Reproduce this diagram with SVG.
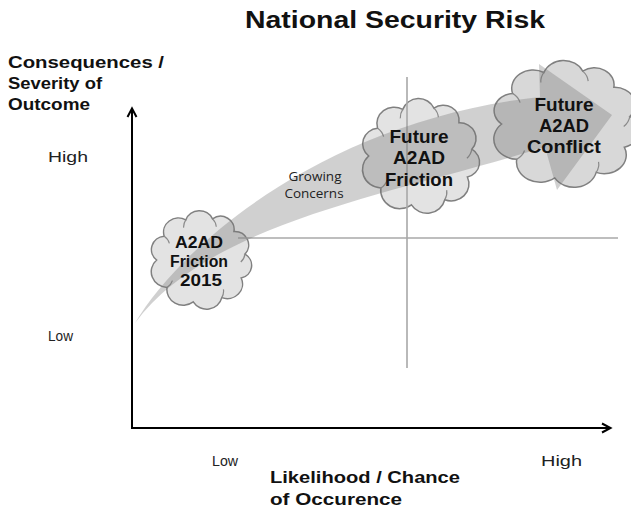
<svg xmlns="http://www.w3.org/2000/svg" width="631" height="518" viewBox="0 0 631 518">
  <defs>
    <style>
      .title { font-family: "Liberation Sans", Arial, sans-serif; font-weight: bold; font-size: 23px; fill: #111; }
      .axis-title { font-family: "Liberation Sans", Arial, sans-serif; font-weight: bold; font-size: 16px; fill: #111; }
      .tick { font-family: "Liberation Sans", Arial, sans-serif; font-size: 15px; fill: #222; }
      .cloud-text { font-family: "Liberation Sans", Arial, sans-serif; font-weight: bold; fill: #111; text-anchor: middle; }
      .note { font-family: "Open Sans", "Liberation Sans", sans-serif; font-size: 13.5px; fill: #222; text-anchor: middle; }
      .cloud { stroke: #808080; stroke-width: 1.5; }
      .cloud-inner { fill: none; stroke: #8a8a8a; stroke-width: 1.2; }
      .grid { stroke: #a8a8a8; stroke-width: 1.6; fill: none; }
      .axis { stroke: #000; stroke-width: 2; fill: none; }
      .band { fill: #6f6f6f; fill-opacity: 0.33; }
    </style>
    <!-- cloud outline in a 100x100 box: ten rounded lobes -->
    <path id="cloud-shape" vector-effect="non-scaling-stroke" d="M6.5,50 A13.7,13.7 0 0 1 13.9,25.7 A14.5,14.5 0 0 1 35.1,9.1 A14.1,14.1 0 0 1 61.3,8 A13.3,13.3 0 0 1 82.3,20.9 A13.8,13.8 0 0 1 93.1,44 A13.3,13.3 0 0 1 89.4,68.4 A14.9,14.9 0 0 1 70.4,88.4 A15.3,15.3 0 0 1 42.4,92.8 A16,16 0 0 1 16.7,78 A16.1,16.1 0 0 1 6.5,50 Z"/>
    <path id="cloud-creases" vector-effect="non-scaling-stroke" d="M93.1,44 A13,13 0 0 1 89,52 M61.3,8 A13,13 0 0 1 65,16 M16.7,78 A13,13 0 0 0 22,71 M70.4,88.4 A13,13 0 0 0 72,80 M13.9,25.7 A13,13 0 0 1 19,33 M35.1,9.1 A13,13 0 0 0 33,17"/>
  </defs>

  <rect x="0" y="0" width="631" height="518" fill="#fff"/>

  <text class="title" x="245" y="28" textLength="300" lengthAdjust="spacingAndGlyphs">National Security Risk</text>

  <!-- axis captions and scale labels -->
  <g id="y-axis-title">
    <text class="axis-title" x="8" y="68" textLength="156" lengthAdjust="spacingAndGlyphs">Consequences /</text>
    <text class="axis-title" x="8" y="89" textLength="94" lengthAdjust="spacingAndGlyphs">Severity of</text>
    <text class="axis-title" x="8" y="110" textLength="82" lengthAdjust="spacingAndGlyphs">Outcome</text>
  </g>
  <g id="x-axis-title">
    <text class="axis-title" x="270" y="483" textLength="190" lengthAdjust="spacingAndGlyphs">Likelihood / Chance</text>
    <text class="axis-title" x="270" y="505" textLength="132" lengthAdjust="spacingAndGlyphs">of Occurence</text>
  </g>
  <g id="scale-labels">
    <text class="tick" x="48" y="162" textLength="40" lengthAdjust="spacingAndGlyphs">High</text>
    <text class="tick" x="48" y="341" textLength="25" lengthAdjust="spacingAndGlyphs">Low</text>
    <text class="tick" x="212" y="466" textLength="26" lengthAdjust="spacingAndGlyphs">Low</text>
    <text class="tick" x="541" y="466" textLength="41" lengthAdjust="spacingAndGlyphs">High</text>
  </g>

  <!-- clouds -->
  <g id="cloud-2015">
    <g transform="translate(150,211) scale(1.02,0.98)">
      <use href="#cloud-shape" fill="#e3e3e3" class="cloud"/>
      <use href="#cloud-creases" class="cloud-inner"/>
    </g>
  </g>
  <g id="cloud-future-friction">
    <g transform="translate(361,99) scale(1.19,1.14)">
      <use href="#cloud-shape" fill="#e3e3e3" class="cloud"/>
      <use href="#cloud-creases" class="cloud-inner"/>
    </g>
  </g>
  <g id="cloud-future-conflict">
    <g transform="translate(492,61) scale(1.48,1.26)">
      <use href="#cloud-shape" fill="#d8d8d8" class="cloud"/>
      <use href="#cloud-creases" class="cloud-inner"/>
    </g>
  </g>

  <!-- quadrant dividers and axes -->
  <g id="connectors">
    <line class="grid" x1="407" y1="77" x2="407" y2="368"/>
    <line class="grid" x1="238" y1="238" x2="618" y2="238"/>
    <line class="axis" x1="132" y1="429" x2="132" y2="109"/>
    <polyline class="axis" points="127.5,117 132,108.5 136.5,117"/>
    <line class="axis" x1="131" y1="428" x2="610" y2="428"/>
    <polyline class="axis" points="602,423.5 610.5,428 602,432.5"/>
    <!-- curved trend arrow -->
    <path class="band" d="M135,323 C185,240 330,120 540,97 L539,64 L612,115 L557,190 L545,147 C390,195 210,222 135,323 Z"/>
  </g>

  <!-- labels on top -->
  <g id="label-2015">
    <text class="cloud-text" font-size="16" x="199" y="248" textLength="48" lengthAdjust="spacingAndGlyphs">A2AD</text>
    <text class="cloud-text" font-size="16" x="199" y="267" textLength="58" lengthAdjust="spacingAndGlyphs">Friction</text>
    <text class="cloud-text" font-size="16" x="201" y="286" textLength="42" lengthAdjust="spacingAndGlyphs">2015</text>
  </g>
  <g id="label-future-friction">
    <text class="cloud-text" font-size="18" x="419" y="143" textLength="59" lengthAdjust="spacingAndGlyphs">Future</text>
    <text class="cloud-text" font-size="18" x="419" y="164" textLength="52" lengthAdjust="spacingAndGlyphs">A2AD</text>
    <text class="cloud-text" font-size="18" x="419" y="186" textLength="68" lengthAdjust="spacingAndGlyphs">Friction</text>
  </g>
  <g id="label-future-conflict">
    <text class="cloud-text" font-size="18" x="564" y="111" textLength="59" lengthAdjust="spacingAndGlyphs">Future</text>
    <text class="cloud-text" font-size="18" x="564" y="132" textLength="50" lengthAdjust="spacingAndGlyphs">A2AD</text>
    <text class="cloud-text" font-size="18" x="564" y="153" textLength="74" lengthAdjust="spacingAndGlyphs">Conflict</text>
  </g>
  <g id="label-growing">
    <text class="note" x="315" y="181">Growing</text>
    <text class="note" x="314" y="198">Concerns</text>
  </g>
</svg>
